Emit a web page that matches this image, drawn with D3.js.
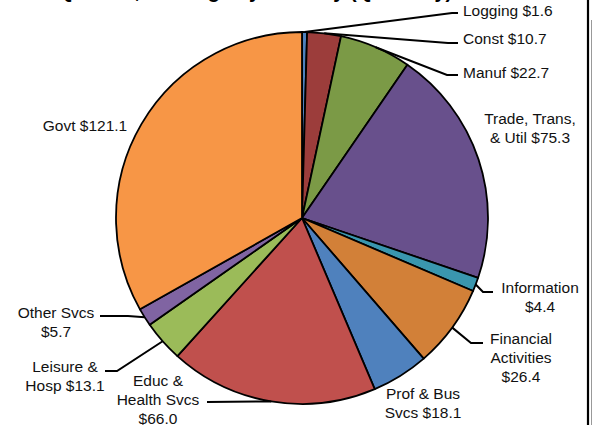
<!DOCTYPE html>
<html>
<head>
<meta charset="utf-8">
<script src="https://cdn.jsdelivr.net/npm/d3@7"></script>
<style>
  body { margin: 0; background: #fff; }
  svg { display: block; font-family: Arial, "Liberation Sans", sans-serif; }
</style>
</head>
<body>
<svg id="chart" width="596" height="425"></svg>
<script>
// data
var categories = ["Logging", "Const", "Manuf", "Trade, Trans, & Util", "Information",
    "Financial Activities", "Prof & Bus Svcs", "Educ & Health Svcs", "Leisure & Hosp",
    "Other Svcs", "Govt"]
var values = [1.6, 10.7, 22.7, 75.3, 4.4, 26.4, 18.1, 66.0, 13.1, 5.7, 121.1]
var colors = ["#4F81BD", "#9C3D3B", "#7B9A46", "#68508C", "#3A96AE", "#D28038",
    "#4F81BD", "#C0504D", "#9BBB59", "#8064A2", "#F79646"]

// label layout: words per line, position of first baseline, leader elbow/end
var labelLayout = [
    {words: [2],    x: 463, y: 15.5, anchor: "start",  elbow: [452, 13], end: [458, 13]},
    {words: [2],    x: 463, y: 43.5, anchor: "start",  elbow: [448, 43], end: [458, 43]},
    {words: [2],    x: 463, y: 77.5, anchor: "start",  elbow: [447, 75], end: [458, 75]},
    {words: [2, 3], x: 530, y: 124,  anchor: "middle", elbow: null},
    {words: [1, 1], x: 540, y: 293,  anchor: "middle", elbow: [483, 292], end: [493, 292]},
    {words: [1, 1, 1], x: 521, y: 343.5, anchor: "middle", elbow: [471, 343], end: [483, 343]},
    {words: [3, 2], x: 423, y: 398.5, anchor: "middle", elbow: null},
    {words: [2, 2, 1], x: 158, y: 385.5, anchor: "middle", elbow: [207, 402], end: [207, 402]},
    {words: [2, 2], x: 65,  y: 372,  anchor: "middle", elbow: [117, 371], end: [105, 371]},
    {words: [2, 1], x: 56,  y: 318,  anchor: "middle", elbow: [128, 316], end: [100, 316]},
    {words: [2],    x: 85,  y: 130.5, anchor: "middle", elbow: null}
]

var svg = d3.select("#chart")
var cx = 302, cy = 218, radius = 186
var lineHeight = 19

// title sits mostly above the visible area, as in the reference
svg.append("text")
    .attr("x", 255).attr("y", -2.5)
    .attr("text-anchor", "middle")
    .attr("font-size", "20px")
    .attr("font-weight", "bold")
    .text("Q1 2013, Earnings by Industry (Quarterly)")

var pie = d3.pie().sort(null).value(function(d){ return d })
var arcs = pie(values)
var arc = d3.arc().innerRadius(0).outerRadius(radius)

var g = svg.append("g").attr("transform", "translate(" + cx + "," + cy + ")")
g.selectAll("path")
    .data(arcs)
    .enter()
        .append("path")
        .attr("d", arc)
        .attr("fill", function(d, i){ return colors[i] })
        .attr("stroke", "#000")
        .attr("stroke-width", 1.8)
        .attr("stroke-linejoin", "round")

// leader lines
arcs.forEach(function(d, i)
{
    var lay = labelLayout[i]
    if(!lay.elbow) return
    var a = (d.startAngle + d.endAngle) / 2
    var p = [cx + radius * Math.sin(a), cy - radius * Math.cos(a)]
    svg.append("path")
        .attr("d", d3.line()([p, lay.elbow, lay.end]))
        .attr("fill", "none")
        .attr("stroke", "#000")
        .attr("stroke-width", 2)
})

// labels
arcs.forEach(function(d, i)
{
    var lay = labelLayout[i]
    var full = categories[i] + " $" + values[i].toFixed(1)
    var words = full.split(" ")
    var lines = []
    var k = 0
    lay.words.forEach(function(n)
    {
        lines.push(words.slice(k, k + n).join(" "))
        k += n
    })
    var t = svg.append("text")
        .attr("text-anchor", lay.anchor)
        .attr("font-size", "15.5px")
        .attr("fill", "#111")
    lines.forEach(function(s, j)
    {
        t.append("tspan")
            .attr("x", lay.x)
            .attr("y", lay.y + j * lineHeight)
            .text(s)
    })
})

// frame edges on the right
svg.append("line")
    .attr("x1", 588).attr("x2", 588).attr("y1", 0).attr("y2", 425)
    .attr("stroke", "#000").attr("stroke-width", 2.2)
svg.append("line")
    .attr("x1", 591.5).attr("x2", 591.5).attr("y1", 20).attr("y2", 425)
    .attr("stroke", "#999").attr("stroke-width", 1)
</script>
</body>
</html>
